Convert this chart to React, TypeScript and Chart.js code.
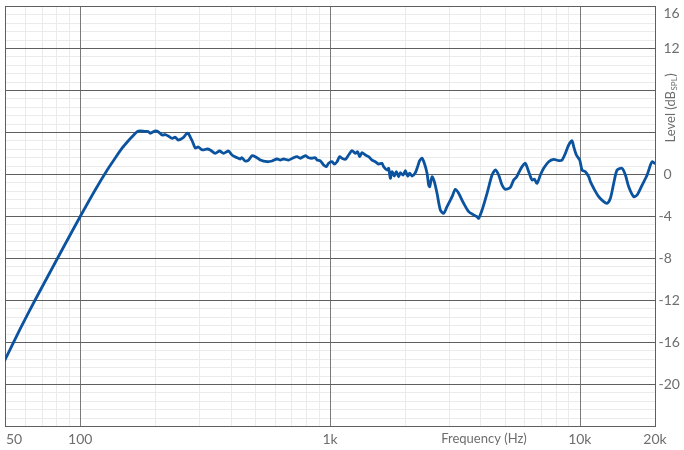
import React, { useEffect, useRef } from "react";
import { Chart, registerables } from "chart.js";

Chart.register(...registerables);

// Frequency response data
const freqHz: number[] = [
  50, 57.5, 66, 75.8, 87.1, 100, 114.8, 128.3, 138.1, 147.3,
  154.3, 161.6, 169.2, 173.9, 182.1, 187.2, 190.7, 199.7, 205.3, 213,
  219, 225.1, 233.6, 240.2, 246.9, 258.5, 265.8, 270.7, 275.8, 280.9,
  288.8, 296.9, 308.1, 322.6,
  331.6, 347.2, 361.3, 374.9, 392.6, 405.1, 424.2, 437.3, 444.2, 458,
  472.1, 487.1, 502.1, 526, 559.5, 585.8, 613.5, 632.4, 651.9, 682.7,
  714.9, 737.8, 760.6, 796.5, 821.1, 847.2, 873.4, 887.2, 914.6, 942.8,
  966.5, 987.2,
  1019, 1040, 1067, 1093, 1117, 1152, 1187, 1225, 1263, 1290,
  1314, 1343, 1385, 1428, 1473, 1519, 1565, 1615, 1639, 1691,
  1717, 1744, 1771, 1809, 1843, 1883, 1912, 1961, 2003, 2046,
  2084, 2130, 2196, 2243, 2285, 2336, 2386, 2446, 2483,
  2506, 2562, 2616, 2682, 2765, 2851, 2941, 3033, 3081, 3176,
  3273, 3428, 3590, 3759, 3879, 3936, 4062, 4253, 4454, 4592,
  4733, 4884, 5035, 5273, 5436, 5574, 5693, 5874, 6055, 6242,
  6440, 6578, 6744, 6953, 7167, 7505, 7861, 8232, 8494, 8756,
  9027, 9314, 9452, 9690, 9989, 10211, 10529, 10853, 11025, 11366,
  11902, 12464, 12861, 13258, 13668, 14104, 14769, 15226, 15696, 16436,
  16959, 17763, 18600, 19175, 19478, 19895, 20000,
];

const levelDb: number[] = [
  -17.71, -14.76, -12.0, -9.33, -6.67, -4.05, -1.52, 0.38, 1.52, 2.48,
  3.05, 3.57, 4.03, 4.1, 4.05, 4.05, 3.88, 4.1, 4.03, 3.71,
  3.76, 3.62, 3.4, 3.5, 3.24, 3.46, 3.81, 3.86, 3.52, 3.14,
  2.48, 2.57, 2.29, 2.38,
  2.29, 1.97, 2.19, 1.97, 2.19, 1.81, 1.55, 1.43, 1.55, 1.24,
  1.33, 1.74, 1.65, 1.33, 1.17, 1.24, 1.43, 1.33, 1.43, 1.33,
  1.55, 1.65, 1.5, 1.74, 1.55, 1.5, 1.55, 1.33, 1.24, 0.86,
  0.7, 1.02,
  1.17, 0.95, 1.17, 1.65, 1.5, 1.4, 1.81, 2.22, 1.97, 2.12,
  1.65, 2.03, 1.81, 1.65, 1.33, 1.17, 0.95, 1.02, 0.7, 0.38,
  0.54, -0.41, 0.22, -0.19, 0.22, -0.26, 0.12, -0.1, 0.31, -0.19,
  0.07, -0.19, 0.12, 0.7, 1.27, 1.5, 1.02, 0.07, -1.05,
  -1.21, -0.26, -0.73, -1.84, -3.43, -3.74, -3.11, -2.48, -2.16, -1.46,
  -1.84, -2.79, -3.59, -3.9, -4.07, -4.22, -3.43, -1.84, -0.1, 0.38,
  -0.1, -1.05, -1.46, -1.27, -0.57, -0.31, 0.12, 0.7, 1.02, 0.22,
  -0.57, -0.5, -0.89, -0.1, 0.54, 1.17, 1.4, 1.27, 1.33, 1.97,
  2.76, 3.17, 2.6, 1.81, 1.33, 0.38, 0.22, -0.26, -0.73, -1.36,
  -2.16, -2.64, -2.79, -2.31, -0.89, 0.38, 0.54, -0.1, -1.21, -2.16,
  -2.0, -1.05, -0.1, 0.86, 1.17, 1.02, 1.05,
];

// Axes
const xMin = 50;
const xMax = 20000;
const xMinorValues: number[] = [
  60, 70, 80, 90, 200, 300, 400, 500, 600, 700, 800, 900,
  2000, 3000, 4000, 5000, 6000, 7000, 8000, 9000,
];
const xMajorValues: number[] = [100, 1000, 10000];
const xTickValues: number[] = [50, 100, 1000, 10000, 20000];
const xTickLabels: string[] = ["50", "100", "1k", "10k", "20k"];

const yMin = -24;
const yMax = 16;
const yMinorStep = 0.8;
const yMajorStep = 4;
const yTickValues: number[] = [16, 12, 0, -4, -8, -12, -16, -20];

const xTitle = "Frequency (Hz)";
const yTitleMain = "Level (dB";
const yTitleSub = "SPL";
const yTitleEnd = ")";

const LINE_COLOR = "#0b539f";
const TEXT_COLOR = "#6e6e6e";
const MAJOR_H = "#5f5f5f";
const MAJOR_V = "#7a7a7a";
const MINOR = "#ebebeb";

const gridPlugin = {
  id: "customGrid",
  beforeDatasetsDraw(chart: any) {
    const { ctx, chartArea } = chart;
    const xs = chart.scales.x;
    const ys = chart.scales.y;
    const { left, right, top, bottom } = chartArea;
    const al = (p: number) => Math.round(p) + 0.5;
    ctx.save();
    ctx.lineWidth = 1;
    // minor vertical
    ctx.strokeStyle = MINOR;
    ctx.beginPath();
    xMinorValues.forEach((v) => {
      const px = al(xs.getPixelForValue(v));
      ctx.moveTo(px, top);
      ctx.lineTo(px, bottom);
    });
    // minor horizontal
    const n = Math.round((yMax - yMin) / yMinorStep);
    for (let i = 0; i <= n; i++) {
      const v = yMin + i * yMinorStep;
      const r = v / yMajorStep;
      if (Math.abs(r - Math.round(r)) < 1e-6) continue;
      const py = al(ys.getPixelForValue(v));
      ctx.moveTo(left, py);
      ctx.lineTo(right, py);
    }
    ctx.stroke();
    // major vertical
    ctx.strokeStyle = MAJOR_V;
    ctx.beginPath();
    xMajorValues.forEach((v) => {
      const px = al(xs.getPixelForValue(v));
      ctx.moveTo(px, top);
      ctx.lineTo(px, bottom);
    });
    ctx.stroke();
    // major horizontal
    ctx.strokeStyle = MAJOR_H;
    ctx.beginPath();
    for (let v = yMin; v <= yMax + 1e-9; v += yMajorStep) {
      const py = al(ys.getPixelForValue(v));
      ctx.moveTo(left, py);
      ctx.lineTo(right, py);
    }
    ctx.stroke();
    // frame
    ctx.strokeStyle = MAJOR_H;
    ctx.strokeRect(al(left), al(top), al(right) - al(left), al(bottom) - al(top));
    ctx.restore();
  },
};

const labelPlugin = {
  id: "customLabels",
  afterDraw(chart: any) {
    const { ctx, chartArea } = chart;
    const xs = chart.scales.x;
    const ys = chart.scales.y;
    ctx.save();
    ctx.fillStyle = TEXT_COLOR;
    ctx.textBaseline = "middle";
    const labelY = chartArea.bottom + 13;

    // x tick labels
    ctx.font = "14px Lato";
    xTickValues.forEach((v, i) => {
      const px = xs.getPixelForValue(v);
      if (px <= chartArea.left + 1) {
        ctx.textAlign = "left";
        ctx.fillText(xTickLabels[i], px + 1, labelY);
      } else {
        ctx.textAlign = "center";
        ctx.fillText(xTickLabels[i], px, labelY);
      }
    });

    // x title
    ctx.font = "13px Lato";
    ctx.textAlign = "center";
    ctx.fillText(xTitle, chartArea.right - 171, labelY);

    // y tick labels
    ctx.font = "14px Lato";
    ctx.textAlign = "left";
    yTickValues.forEach((v) => {
      const py = Math.max(ys.getPixelForValue(v), chartArea.top + 7);
      const lx = v < 0 ? chartArea.right + 3.5 : chartArea.right + 8.5;
      ctx.fillText(String(v), lx, py);
    });

    // y title (rotated)
    ctx.translate(chartArea.right + 15.5, ys.getPixelForValue(6.3));
    ctx.rotate(-Math.PI / 2);
    ctx.font = "13px Lato";
    const w1 = ctx.measureText(yTitleMain).width;
    const w3 = ctx.measureText(yTitleEnd).width;
    ctx.font = "8px Lato";
    const w2 = ctx.measureText(yTitleSub).width + 1;
    const total = w1 + w2 + w3;
    let cx = -total / 2;
    ctx.textAlign = "left";
    ctx.font = "13px Lato";
    ctx.fillText(yTitleMain, cx, 0);
    cx += w1;
    ctx.font = "8px Lato";
    ctx.fillText(yTitleSub, cx + 0.5, 3.5);
    cx += w2;
    ctx.font = "13px Lato";
    ctx.fillText(yTitleEnd, cx, 0);
    ctx.restore();
  },
};

export default function App() {
  const canvasRef = useRef<HTMLCanvasElement | null>(null);

  useEffect(() => {
    const canvas = canvasRef.current;
    if (!canvas) return;
    const points = freqHz.map((f, i) => ({ x: f, y: levelDb[i] }));
    const chart = new Chart(canvas, {
      type: "line",
      data: {
        datasets: [
          {
            data: points,
            borderColor: LINE_COLOR,
            borderWidth: 2.8,
            pointRadius: 0,
            tension: 0.25,
            fill: false,
            borderJoinStyle: "round",
            borderCapStyle: "round",
          },
        ],
      },
      options: {
        responsive: false,
        animation: false,
        devicePixelRatio: 1,
        layout: { padding: { left: 5, top: 6, right: 29, bottom: 24 } },
        plugins: {
          legend: { display: false },
          tooltip: { enabled: false },
        },
        scales: {
          x: {
            type: "logarithmic",
            min: xMin,
            max: xMax,
            ticks: { display: false },
            grid: { display: false, drawTicks: false },
            border: { display: false },
          },
          y: {
            type: "linear",
            position: "right",
            min: yMin,
            max: yMax,
            ticks: { display: false },
            grid: { display: false, drawTicks: false },
            border: { display: false },
          },
        },
      },
      plugins: [gridPlugin, labelPlugin],
    } as any);
    return () => chart.destroy();
  }, []);

  return (
    <div style={{ position: "fixed", left: 0, top: 0, width: 684, height: 450, background: "#fff" }}>
      <canvas ref={canvasRef} width={684} height={450} style={{ display: "block" }} />
    </div>
  );
}
